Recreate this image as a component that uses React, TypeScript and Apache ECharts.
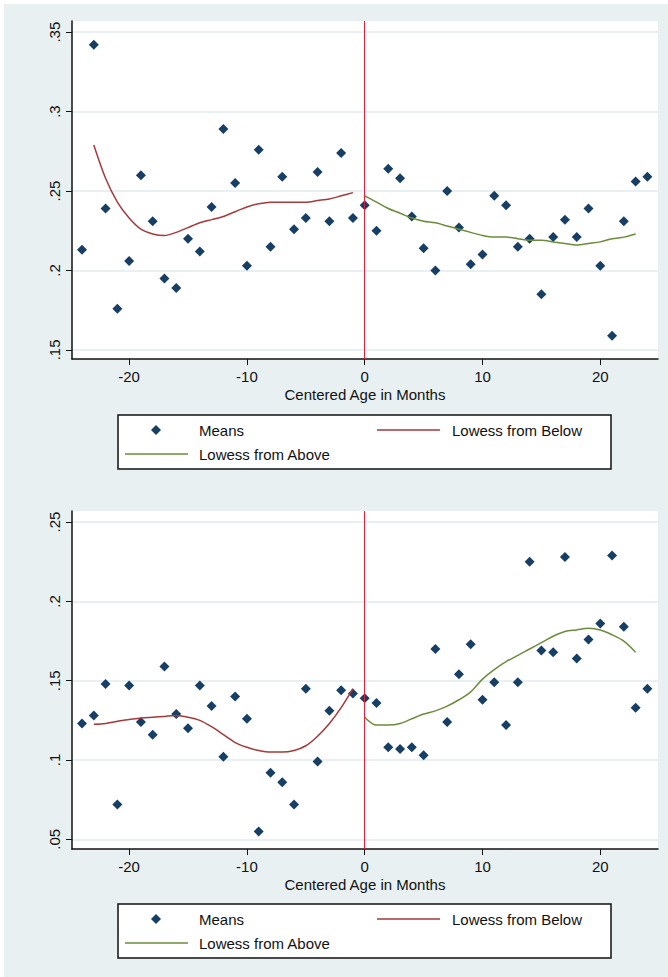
import { useRef, useEffect } from "react";
import * as echarts from "echarts";

const months = [-24, -23, -22, -21, -20, -19, -18, -17, -16, -15, -14, -13, -12, -11, -10, -9, -8, -7, -6, -5, -4, -3, -2, -1, 0, 1, 2, 3, 4, 5, 6, 7, 8, 9, 10, 11, 12, 13, 14, 15, 16, 17, 18, 19, 20, 21, 22, 23, 24];

const topMeans = [0.213, 0.342, 0.239, 0.176, 0.206, 0.26, 0.231, 0.195, 0.189, 0.22, 0.212, 0.24, 0.289, 0.255, 0.203, 0.276, 0.215, 0.259, 0.226, 0.233, 0.262, 0.231, 0.274, 0.233, 0.241, 0.225, 0.264, 0.258, 0.234, 0.214, 0.2, 0.25, 0.227, 0.204, 0.21, 0.247, 0.241, 0.215, 0.22, 0.185, 0.221, 0.232, 0.221, 0.239, 0.203, 0.159, 0.231, 0.256, 0.259];
const bottomMeans = [0.123, 0.128, 0.148, 0.072, 0.147, 0.124, 0.116, 0.159, 0.129, 0.12, 0.147, 0.134, 0.102, 0.14, 0.126, 0.055, 0.092, 0.086, 0.072, 0.145, 0.099, 0.131, 0.144, 0.142, 0.139, 0.136, 0.108, 0.107, 0.108, 0.103, 0.17, 0.124, 0.154, 0.173, 0.138, 0.149, 0.122, 0.149, 0.225, 0.169, 0.168, 0.228, 0.164, 0.176, 0.186, 0.229, 0.184, 0.133, 0.145];

const belowX = [-23, -22, -21, -20, -19, -18, -17, -16, -15, -14, -13, -12, -11, -10, -9, -8, -7, -6, -5, -4, -3, -2, -1];
const aboveX = [0, 1, 2, 3, 4, 5, 6, 7, 8, 9, 10, 11, 12, 13, 14, 15, 16, 17, 18, 19, 20, 21, 22, 23];

const topBelow = [0.279, 0.258, 0.243, 0.233, 0.226, 0.223, 0.222, 0.224, 0.227, 0.23, 0.232, 0.234, 0.237, 0.24, 0.242, 0.243, 0.243, 0.243, 0.243, 0.244, 0.245, 0.247, 0.249];
const topAbove = [0.247, 0.243, 0.239, 0.236, 0.233, 0.231, 0.23, 0.228, 0.226, 0.224, 0.222, 0.221, 0.221, 0.22, 0.219, 0.219, 0.218, 0.217, 0.216, 0.217, 0.218, 0.22, 0.221, 0.223];
const bottomBelow = [0.1225, 0.123, 0.1245, 0.1255, 0.1265, 0.127, 0.1275, 0.128, 0.127, 0.125, 0.121, 0.116, 0.111, 0.108, 0.106, 0.105, 0.105, 0.106, 0.109, 0.115, 0.123, 0.133, 0.145];
const bottomAbove = [0.127, 0.122, 0.122, 0.123, 0.126, 0.129, 0.131, 0.134, 0.138, 0.143, 0.151, 0.157, 0.162, 0.166, 0.17, 0.174, 0.178, 0.181, 0.182, 0.183, 0.182, 0.179, 0.175, 0.168];

const xTicks = [-20, -10, 0, 10, 20];
const topTicks = [0.15, 0.2, 0.25, 0.3, 0.35];
const bottomTicks = [0.05, 0.1, 0.15, 0.2, 0.25];

const NAVY = "#173f66";
const MAROON = "#a5393b";
const OLIVE = "#6b8c3c";
const VLINE = "#e0203c";
const FONT = "Liberation Sans, Arial, sans-serif";

const fmt = (v: number) => String(+v.toFixed(2)).replace(/^0/, "");

function legend(top: number) {
  const txt = (x: number, y: number, s: string) => ({
    type: "text", x, y, style: { text: s, fill: "#111", font: `15px ${FONT}`, verticalAlign: "middle" },
  });
  return [
    { type: "rect", shape: { x: 118, y: top, width: 493, height: 54 }, style: { fill: "#fff", stroke: "#111", lineWidth: 1.5 } },
    { type: "polygon", shape: { points: [[156, top + 10], [161, top + 15], [156, top + 20], [151, top + 15]] }, style: { fill: NAVY } },
    txt(199, top + 15, "Means"),
    { type: "line", shape: { x1: 377, y1: top + 15, x2: 440, y2: top + 15 }, style: { stroke: MAROON, lineWidth: 1.5 } },
    txt(452, top + 15, "Lowess from Below"),
    { type: "line", shape: { x1: 125, y1: top + 39, x2: 188, y2: top + 39 }, style: { stroke: OLIVE, lineWidth: 1.5 } },
    txt(199, top + 39, "Lowess from Above"),
  ];
}

export default function App() {
  const ref = useRef<HTMLDivElement>(null);

  useEffect(() => {
    document.body.style.margin = "0";
    if (!ref.current) return;
    const chart = echarts.init(ref.current, undefined, { renderer: "svg" });

    const xAxis = (gridIndex: number) => ({
      type: "value",
      gridIndex,
      min: -24.85,
      max: 24.9,
      name: "Centered Age in Months",
      nameLocation: "middle",
      nameGap: 28,
      nameTextStyle: { color: "#111", fontSize: 15, fontFamily: FONT },
      axisLine: { show: true, onZero: false, lineStyle: { color: "#111", width: 1.5 } },
      axisTick: { show: true, length: 6, customValues: xTicks, lineStyle: { color: "#111" } },
      axisLabel: { customValues: xTicks, color: "#111", fontSize: 15, fontFamily: FONT, margin: 10 },
      splitLine: { show: false },
    });
    const yAxis = (gridIndex: number, min: number, max: number, ticks: number[]) => ({
      type: "value",
      gridIndex,
      min,
      max,
      axisLine: { show: true, onZero: false, lineStyle: { color: "#111", width: 1.5 } },
      axisTick: { show: true, length: 6, customValues: ticks, lineStyle: { color: "#111" } },
      axisLabel: { customValues: ticks, rotate: 90, color: "#111", fontSize: 15, fontFamily: FONT, margin: 10, formatter: fmt },
      splitLine: { show: true, lineStyle: { color: "#e1ebf1", width: 1.5 } },
    });

    const pts = (xs: number[], ys: number[]) => xs.map((x, i) => [x, ys[i]]);
    const means = (i: number, ys: number[]) => ({
      type: "scatter", xAxisIndex: i, yAxisIndex: i, symbol: "diamond", symbolSize: 10,
      itemStyle: { color: NAVY, opacity: 1 }, data: pts(months, ys),
      markLine: {
        silent: true, symbol: "none", label: { show: false },
        lineStyle: { color: VLINE, width: 1, type: "solid", opacity: 1 },
        data: [{ xAxis: 0 }],
      },
    });
    const line = (i: number, xs: number[], ys: number[], color: string) => ({
      type: "line", xAxisIndex: i, yAxisIndex: i, symbol: "none", smooth: 0.3,
      lineStyle: { color, width: 1.5 }, data: pts(xs, ys),
    });

    chart.setOption({
      animation: false,
      backgroundColor: "#fff",
      graphic: [
        { type: "rect", z: -10, shape: { x: 4, y: 4, width: 664, height: 973 }, style: { fill: "#e8f0f2" } },
        ...legend(415),
        ...legend(904),
      ],
      grid: [
        { left: 72, right: 10, top: 21, height: 338, show: true, backgroundColor: "#fff", borderWidth: 0 },
        { left: 72, right: 10, top: 511, height: 338, show: true, backgroundColor: "#fff", borderWidth: 0 },
      ],
      xAxis: [xAxis(0), xAxis(1)],
      yAxis: [yAxis(0, 0.1443, 0.357, topTicks), yAxis(1, 0.0439, 0.257, bottomTicks)],
      series: [
        means(0, topMeans),
        line(0, belowX, topBelow, MAROON),
        line(0, aboveX, topAbove, OLIVE),
        means(1, bottomMeans),
        line(1, belowX, bottomBelow, MAROON),
        line(1, aboveX, bottomAbove, OLIVE),
      ],
    });
    return () => chart.dispose();
  }, []);

  return <div ref={ref} style={{ width: 668, height: 977 }} />;
}
